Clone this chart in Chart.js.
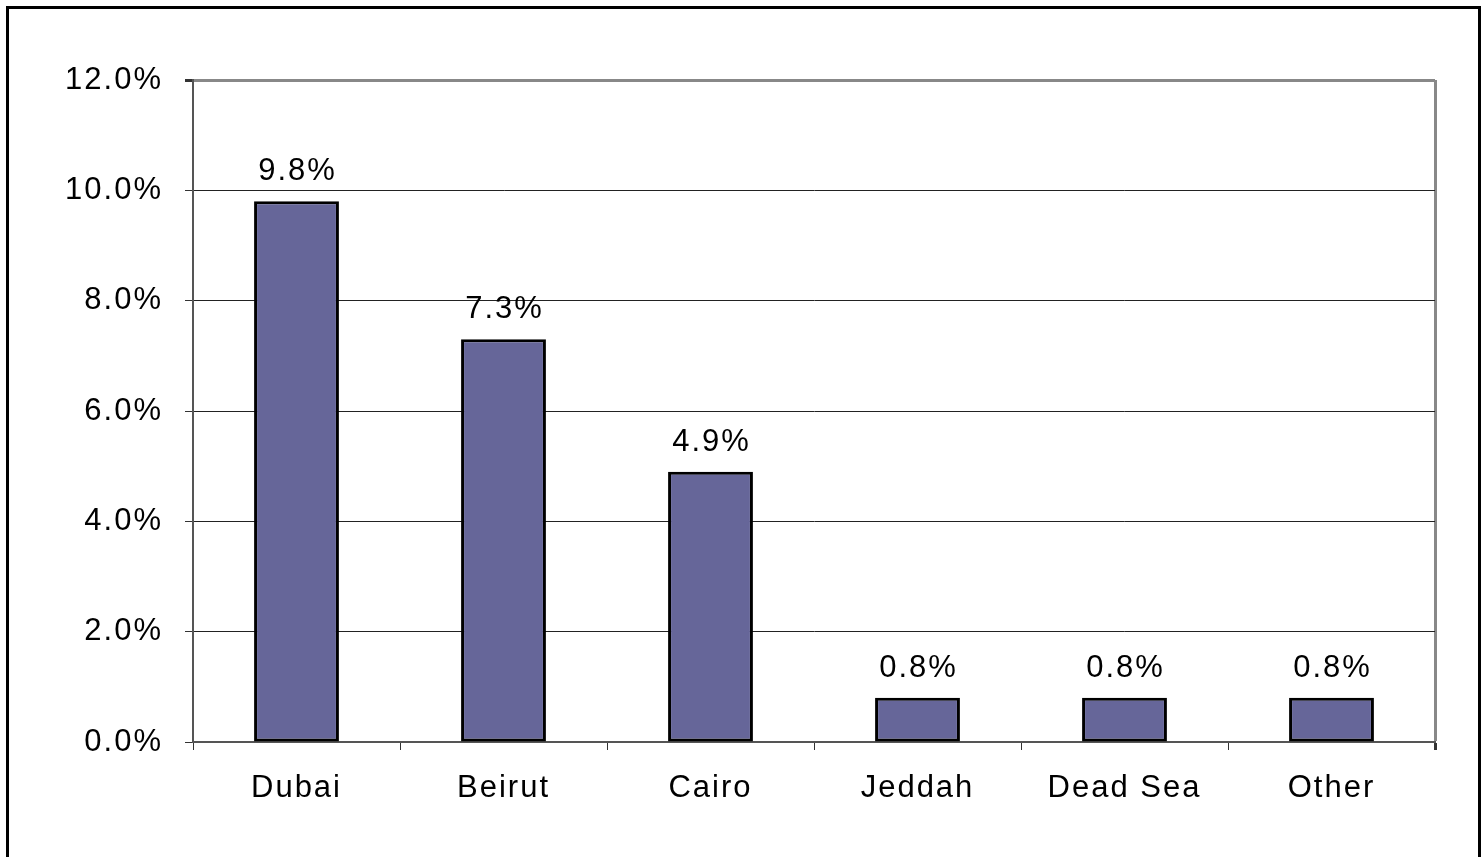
<!DOCTYPE html>
<html>
<head>
<meta charset="utf-8">
<script src="https://cdn.jsdelivr.net/npm/chart.js@4/dist/chart.umd.min.js"></script>
<style>
    html, body { margin: 0; padding: 0; background: #fff; overflow: hidden; }
    #wrap { position: relative; width: 1483px; height: 857px; }
    #frame {
        position: absolute; left: 6px; top: 6px;
        width: 1469px; height: 900px;
        border: 3px solid #000;
    }
    canvas { position: absolute; left: 0; top: 0; }
</style>
</head>
<body>
<div id="wrap">
    <div id="frame"></div>
    <canvas id="chart" width="1483" height="857"></canvas>
</div>
<script>
// Chart data
const cities = ['Dubai', 'Beirut', 'Cairo', 'Jeddah', 'Dead Sea', 'Other'];
const shares = [9.8, 7.3, 4.9, 0.8, 0.8, 0.8];
const yTicks = [0, 2, 4, 6, 8, 10, 12];

const FONT = "'Liberation Sans', Arial, sans-serif";
const FONT_SIZE = 31;

// Widen the text a bit like the original
const spacingPlugin = {
    id: 'spacing',
    beforeUpdate(chart) { chart.ctx.letterSpacing = '2px'; },
    beforeDraw(chart) { chart.ctx.letterSpacing = '2px'; }
};

// Value labels above each bar
const valueLabels = {
    id: 'valueLabels',
    afterDatasetsDraw(chart) {
        const ctx = chart.ctx;
        const meta = chart.getDatasetMeta(0);
        ctx.save();
        ctx.letterSpacing = '2px';
        ctx.font = FONT_SIZE + 'px ' + FONT;
        ctx.fillStyle = '#000';
        ctx.textAlign = 'center';
        ctx.textBaseline = 'bottom';
        meta.data.forEach((bar, i) => {
            ctx.fillText(shares[i].toFixed(1) + '%', bar.x + 1, bar.y - 14);
        });
        ctx.restore();
    }
};

new Chart(document.getElementById('chart').getContext('2d'), {
    type: 'bar',
    data: {
        labels: cities,
        datasets: [{
            data: shares,
            backgroundColor: '#666699',
            borderColor: '#000',
            borderWidth: 3,
            borderSkipped: false,
            categoryPercentage: 1,
            barPercentage: 0.41
        }]
    },
    options: {
        responsive: false,
        animation: false,
        layout: { padding: { top: 80, right: 48, left: 0, bottom: 0 } },
        plugins: {
            legend: { display: false },
            tooltip: { enabled: false }
        },
        scales: {
            x: {
                offset: true,
                afterFit: (scale) => { scale.height = 115; },
                grid: {
                    display: true,
                    offset: true,
                    // only the closing line on the right is visible
                    color: (c) => c.tick ? 'rgba(0,0,0,0)' : '#888',
                    lineWidth: (c) => c.tick ? 1 : 3,
                    tickColor: '#333',
                    tickLength: 8
                },
                border: { display: true, color: '#555', width: 2 },
                ticks: {
                    color: '#000',
                    font: { family: FONT, size: FONT_SIZE },
                    padding: 20
                }
            },
            y: {
                min: 0,
                max: 12,
                afterFit: (scale) => { scale.width = 193; },
                afterBuildTicks: (scale) => {
                    scale.ticks = yTicks.map(v => ({ value: v }));
                },
                grid: {
                    color: (c) => c.tick && c.tick.value === 12 ? '#888' : '#222',
                    lineWidth: (c) => c.tick && c.tick.value === 12 ? 3 : 1,
                    tickColor: '#333',
                    tickLength: 8
                },
                border: { display: true, color: '#555', width: 2 },
                ticks: {
                    color: '#000',
                    font: { family: FONT, size: FONT_SIZE },
                    padding: 22,
                    callback: (v) => Number(v).toFixed(1) + '%'
                }
            }
        }
    },
    plugins: [spacingPlugin, valueLabels]
});
</script>
</body>
</html>
